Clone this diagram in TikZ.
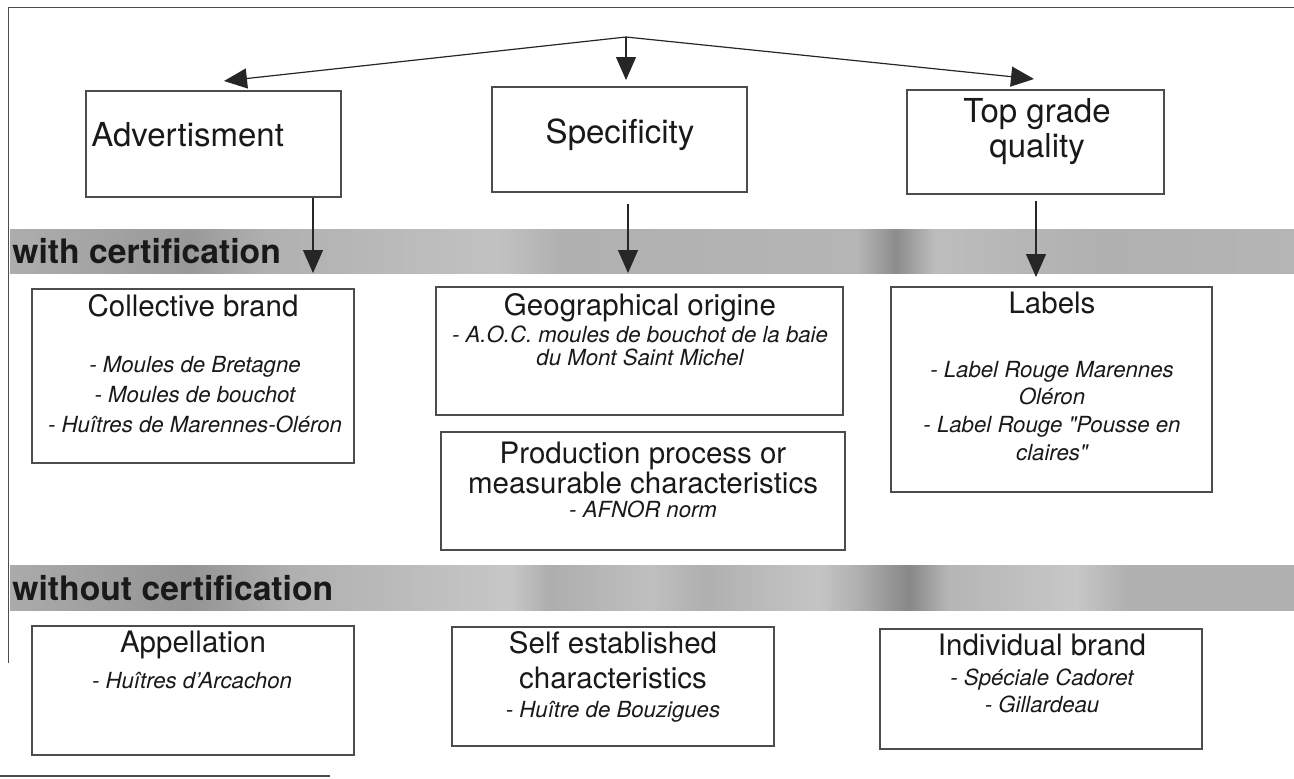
\documentclass[tikz,border=0pt]{standalone}
\usepackage{fontspec}
\setmainfont{TeX Gyre Heros}
\usetikzlibrary{arrows.meta,calc,fit}

% halftone-like grey of the two bands (visible part is 25bp..75bp)
\pgfdeclarehorizontalshading{bandone}{100bp}{color(0bp)=(black!32); color(25bp)=(black!32);
  color(32bp)=(black!40); color(35bp)=(black!31); color(44bp)=(black!24); color(46.5bp)=(black!31);
  color(58bp)=(black!29); color(59.5bp)=(black!45); color(61bp)=(black!26); color(67.5bp)=(black!31);
  color(75bp)=(black!29); color(100bp)=(black!29)}
\pgfdeclarehorizontalshading{bandtwo}{100bp}{color(0bp)=(black!33); color(25bp)=(black!33);
  color(32bp)=(black!42); color(36bp)=(black!31); color(44.5bp)=(black!22); color(46bp)=(black!32);
  color(50bp)=(black!25); color(52bp)=(black!31); color(56.5bp)=(black!23); color(58bp)=(black!31);
  color(60bp)=(black!47); color(61.5bp)=(black!29); color(66.5bp)=(black!22); color(68.5bp)=(black!31);
  color(75bp)=(black!31); color(100bp)=(black!31)}

\tikzset{
  frame/.style={draw=black!70,line width=0.5pt},
  box/.style={draw=black!70,line width=0.6pt,inner sep=0pt},
  arr/.style={draw=black!85,line width=0.6pt,-{Triangle[length=11.5pt,width=10pt]}},
  head/.style={font=\fontsize{16.5}{19}\selectfont,text=black!90,inner sep=0pt,anchor=base},
  subhead/.style={font=\fontsize{14.75}{17}\selectfont,text=black!90,inner sep=0pt,anchor=base},
  itemtext/.style={font=\fontsize{11.1}{13}\selectfont\itshape,text=black!90,inner sep=0pt,anchor=base},
  bandlabel/.style={font=\fontsize{16.85}{19}\selectfont\bfseries,text=black!90,inner sep=0pt,anchor=base west}
}

\begin{document}
\begin{tikzpicture}[x=0.5pt,y=-0.5pt]
  \useasboundingbox (0,0) rectangle (1294,778);
  % frame remains of the scanned page
  \draw[frame] (8,7) -- (1294,7);
  \draw[frame] (8,7) -- (8,663);
  \draw[frame,line width=1pt] (0,776) -- (330,776);

  % bands
  \path[shading=bandone] (10,229) rectangle (1294,273);
  \path[shading=bandtwo] (10,565) rectangle (1294,610);
  \node[bandlabel] (withcert) at (12,263) {with certification};
  \node[bandlabel] (withoutcert) at (12,600) {without certification};

  % top row
  \node[box,fit={(86,91) (341,197)}] (adv) {};
  \node[head,anchor=base west] (advT) at (91,146) {Advertisment};
  \node[box,fit={(492,87) (747,192)}] (spec) {};
  \node[head] (specT) at (620,143) {Specificity};
  \node[box,fit={(907,90) (1164,194)}] (qual) {};
  \node[head] (qualT) at (1037,122) {Top grade};
  \node[head] (qualT2) at (1037,157) {quality};

  % arrows from the top
  \coordinate (hub) at (626,37);
  \coordinate (tipL) at (224,81);
  \coordinate (tipM) at (626,80);
  \coordinate (tipR) at (1034,79);
  \draw[arr] (hub) -- (tipL);
  \draw[arr] (hub) -- (tipM);
  \draw[arr] (hub) -- (tipR);

  % arrows into the certification band
  \coordinate (tipA) at (313,273);
  \coordinate (tipB) at (628,273);
  \coordinate (tipC) at (1036,277);
  \draw[arr] (adv.south -| tipA) -- (tipA);
  \draw[arr] ($(spec.south -| tipB)+(0,11)$) -- (tipB);
  \draw[arr] ($(qual.south -| tipC)+(0,6)$) -- (tipC);

  % with certification
  \node[box,fit={(32,289) (354,463)}] (coll) {};
  \node[subhead] (collT) at (193,316) {Collective brand};
  \foreach \t [count=\i from 0] in {{- Moules de Bretagne},{- Moules de bouchot},{- Huîtres de Marennes-Oléron}}
    \node[itemtext] (coll-\i) at (195,{372+30*\i}) {\t};

  \node[box,fit={(436,287) (843,415)}] (geo) {};
  \node[subhead] (geoT) at (640,315) {Geographical origine};
  \foreach \t [count=\i from 0] in {{- A.O.C. moules de bouchot de la baie},{du Mont Saint Michel}}
    \node[itemtext] (geo-\i) at (640,{342+23*\i}) {\t};

  \node[box,fit={(441,432) (845,550)}] (prod) {};
  \node[subhead] (prodT) at (643,463) {Production process or};
  \node[subhead] (prodT2) at (643,493) {measurable characteristics};
  \node[itemtext] (prod-0) at (643,517) {- AFNOR norm};

  \node[box,fit={(891,287) (1212,492)}] (lab) {};
  \node[subhead] (labT) at (1052,313) {Labels};
  \foreach \t [count=\i from 0] in {{- Label Rouge Marennes},{Oléron},{- Label Rouge \textquotedbl Pousse en},{claires\textquotedbl}}
    \node[itemtext] (lab-\i) at (1052,{377+27.7*\i}) {\t};

  % without certification
  \node[box,fit={(32,626) (354,755)}] (app) {};
  \node[subhead] (appT) at (193,652) {Appellation};
  \node[itemtext] (app-0) at (192,688) {- Huîtres d'Arcachon};

  \node[box,fit={(452,627) (774,746)}] (self) {};
  \node[subhead] (selfT) at (613,653) {Self established};
  \node[subhead] (selfT2) at (613,688) {characteristics};
  \node[itemtext] (self-0) at (613,717) {- Huître de Bouzigues};

  \node[box,fit={(880,629) (1202,749)}] (ind) {};
  \node[subhead] (indT) at (1042,655) {Individual brand};
  \foreach \t [count=\i from 0] in {{- Spéciale Cadoret},{- Gillardeau}}
    \node[itemtext] (ind-\i) at (1042,{685+27*\i}) {\t};
\end{tikzpicture}
\end{document}
